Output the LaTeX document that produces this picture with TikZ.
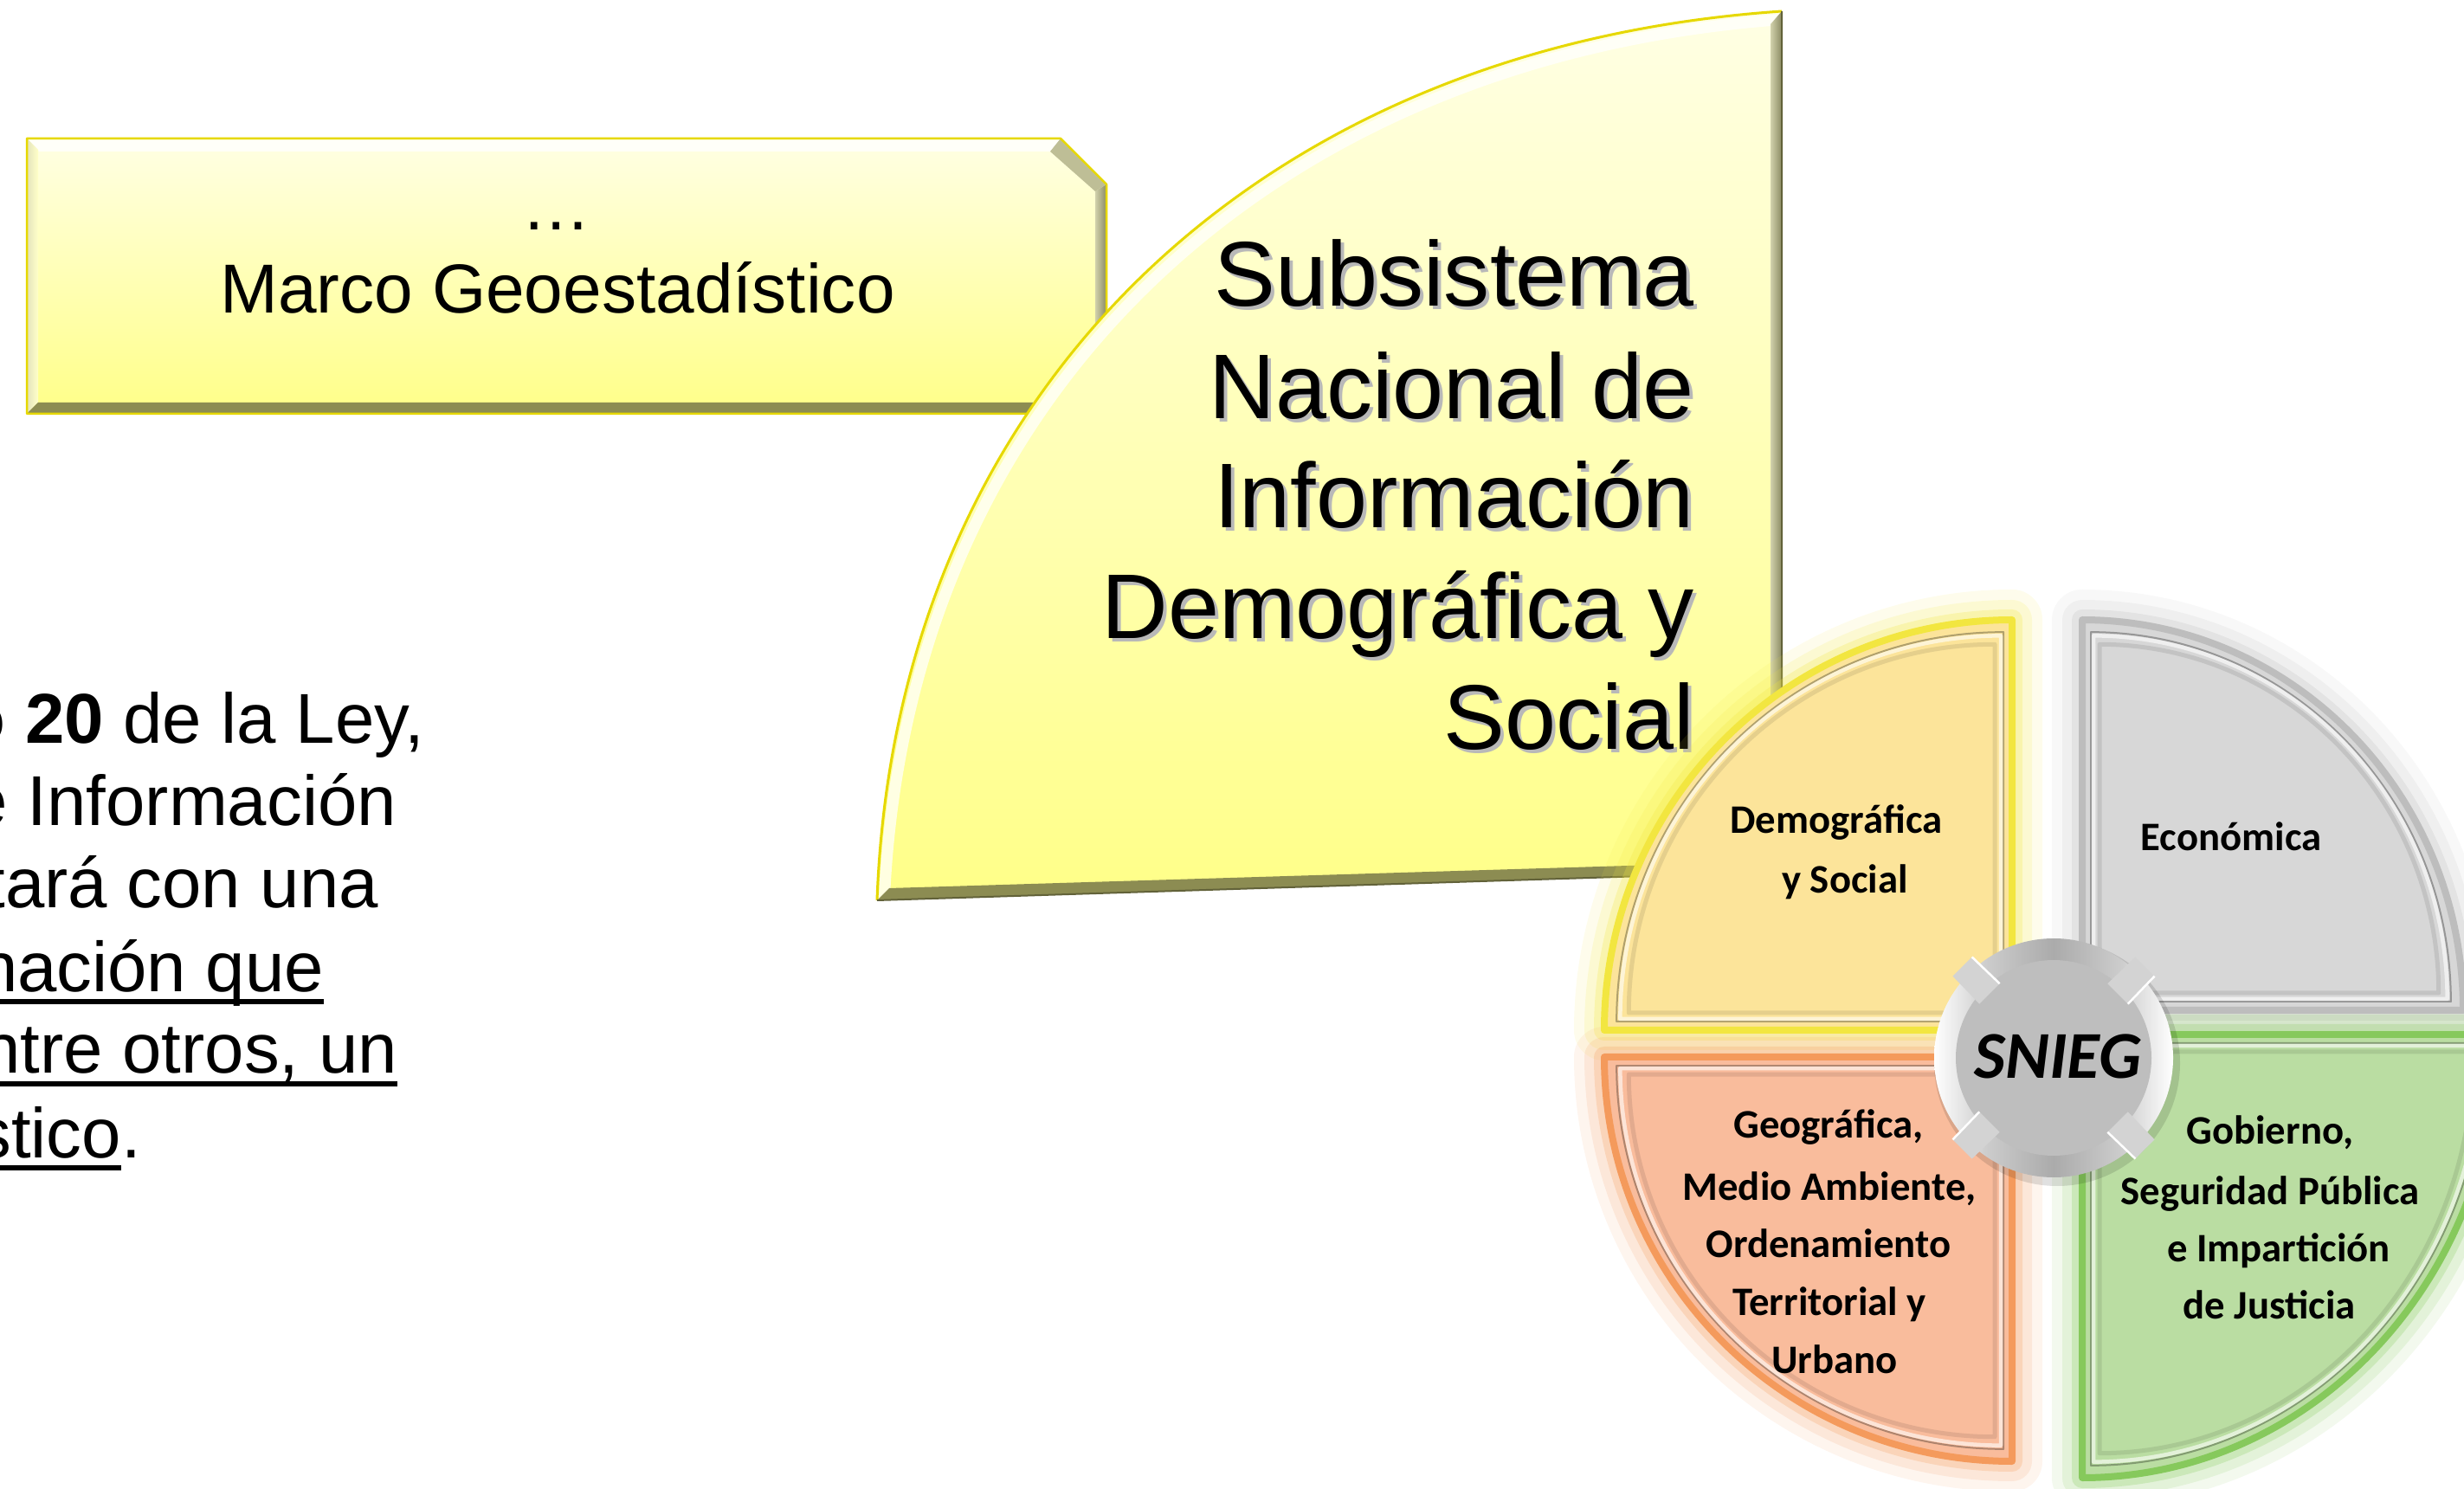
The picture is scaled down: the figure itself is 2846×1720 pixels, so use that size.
\documentclass[tikz,border=0pt]{standalone}
\usepackage{fontspec}
\setmainfont{Liberation Sans}
\newfontfamily\carlito{Carlito}
\definecolor{mkTop}{HTML}{FFFFE4}
\definecolor{mkBot}{HTML}{FFFF88}
\definecolor{bevDark}{HTML}{8C8C52}
\definecolor{bevSide}{HTML}{A3A374}
\definecolor{bevLight}{HTML}{E4E4BC}
\definecolor{edgeY}{HTML}{E6D800}
\definecolor{qY}{HTML}{FCE49A}
\definecolor{qYg}{HTML}{F2E640}
\definecolor{qG}{HTML}{D7D7D7}
\definecolor{qGg}{HTML}{BDBDBD}
\definecolor{qO}{HTML}{F9BC9C}
\definecolor{qOg}{HTML}{F49A5C}
\definecolor{qV}{HTML}{BADDA2}
\definecolor{qVg}{HTML}{86C95C}
\definecolor{knobC}{HTML}{BEBEBE}
\definecolor{tabC}{HTML}{D3D3D3}
\pgfdeclarehorizontalshading{ringshade}{100bp}{color(0bp)=(white); color(25bp)=(white); color(36bp)=(black!20); color(50bp)=(black!33); color(64bp)=(black!20); color(75bp)=(white); color(100bp)=(white)}
% quarter ellipse: corner (#1,#2), signs (#3,#4), radii (#5,#6), inset #7, options #8
\newcommand{\quadshape}[8]{%
 \path[#8] ({#1+(#3)*(#7)},{#2+(#4)*(#7)})
  -- ({#1+(#3)*((#5)-1.414*(#7))},{#2+(#4)*(#7)})
  .. controls ({#1+(#3)*((#5)-1.414*(#7))},{#2+(#4)*((#7)+0.5523*((#6)-2.414*(#7)))})
  and ({#1+(#3)*((#7)+0.5523*((#5)-2.414*(#7)))},{#2+(#4)*((#6)-1.414*(#7))})
  .. ({#1+(#3)*(#7)},{#2+(#4)*((#6)-1.414*(#7))}) -- cycle;}
\newcommand{\panelglow}[8]{%
 \quadshape{#1}{#2}{#3}{#4}{#5}{#6}{0}{draw=#8, line width=7mm, opacity=0.10, line join=round}%
 \quadshape{#1}{#2}{#3}{#4}{#5}{#6}{0}{draw=#8, line width=4.6mm, opacity=0.15, line join=round}%
 \quadshape{#1}{#2}{#3}{#4}{#5}{#6}{0}{draw=#8, line width=2.4mm, opacity=0.25, line join=round}%
}
\newcommand{\panelbody}[8]{%
 \quadshape{#1}{#2}{#3}{#4}{#5}{#6}{0}{fill=#7}%
 \quadshape{#1}{#2}{#3}{#4}{#5}{#6}{0}{draw=#8, line width=0.8mm, line join=round}%
 \quadshape{#1}{#2}{#3}{#4}{#5}{#6}{10}{draw=#7!70!black, line width=0.2mm, line join=round}%
 \quadshape{#1}{#2}{#3}{#4}{#5}{#6}{13}{draw=white, opacity=0.6, line width=0.45mm, line join=round}%
 \quadshape{#1}{#2}{#3}{#4}{#5}{#6}{20}{draw=#7!80!black, opacity=0.45, line width=0.5mm, line join=round}%
}
\begin{document}
\begin{tikzpicture}[x=0.1mm,y=-0.1mm,
  every node/.style={inner sep=0pt, outer sep=0pt},
  mtext/.style={font=\fontsize{22.8pt}{27pt}\selectfont, anchor=base},
  stext/.style={font=\fontsize{30.2pt}{36pt}\selectfont, anchor=base east},
  sshadow/.style={stext, text=black!28},
  ltext/.style={font=\fontsize{23.2pt}{28pt}\selectfont, anchor=base east},
  qtext/.style={font=\carlito\bfseries\fontsize{13.3pt}{16pt}\selectfont, anchor=base},
  ul/.style={line width=0.6mm}]
\useasboundingbox (0,0) rectangle (2846,1720);

% ---------- Marco box ----------
\shade[top color=mkTop, bottom color=mkBot] (31,160) -- (1225,160) -- (1278,213) -- (1278,478) -- (31,478) -- cycle;
\fill[white, opacity=0.8] (33,162) -- (1224,162) -- (1213,175) -- (45,175) -- cycle;
\shade[left color=bevLight, right color=mkTop!70!mkBot] (31,160) -- (44,173) -- (44,465) -- (31,478) -- cycle;
\fill[bevDark] (31,478) -- (44,465) -- (1265,465) -- (1278,478) -- cycle;
\shade[left color=bevSide!50!mkTop, right color=bevSide!85!black] (1278,213) -- (1265,221) -- (1265,465) -- (1278,478) -- cycle;
\fill[bevSide!70!mkTop] (1225,160) -- (1278,213) -- (1265,221) -- (1213,175) -- cycle;
\draw[edgeY, line width=0.25mm, line join=round] (31,160) -- (1225,160) -- (1278,213) -- (1278,478) -- (31,478) -- cycle;
\node[mtext] (dots) at (643,266) {…};
\node[mtext] (marco) at (644,362) {Marco Geoestadístico};

% ---------- Subsistema quarter ----------
\shade[top color=mkTop, bottom color=mkBot] (1013,1040) .. controls (1034,455) and (1450,54) .. (2058,13) -- (2058,1007) -- cycle;
\begin{scope}
\clip (1013,1040) .. controls (1034,455) and (1450,54) .. (2058,13) -- (2058,1007) -- cycle;
\draw[white, opacity=0.75, line width=1.3mm, shift={(8,9)}] (1013,1040) .. controls (1034,455) and (1450,54) .. (2058,13);
\end{scope}
\shade[left color=bevSide!50!mkTop, right color=bevSide!85!black] (2058,13) -- (2045,28) -- (2045,995) -- (2058,1007) -- cycle;
\fill[bevDark] (1013,1040) -- (1027,1026) -- (2045,995) -- (2058,1007) -- cycle;
\draw[edgeY, line width=0.3mm] (1013,1040) .. controls (1034,455) and (1450,54) .. (2058,13);
\draw[bevDark!70!black, line width=0.2mm, line join=round] (2058,13) -- (2058,1007) -- (1013,1040);

\node[sshadow] (s1s) at (1961,358) {Subsistema};
\node[sshadow] (s2s) at (1961,488) {Nacional de};
\node[sshadow] (s3s) at (1961,614) {Información};
\node[sshadow] (s4s) at (1961,742) {Demográfica y};
\node[sshadow] (s5s) at (1961,870) {Social};
\node[stext] (s1) at (1957,354) {Subsistema};
\node[stext] (s2) at (1957,484) {Nacional de};
\node[stext] (s3) at (1957,610) {Información};
\node[stext] (s4) at (1957,738) {Demográfica y};
\node[stext] (s5) at (1957,866) {Social};

% ---------- SNIEG wheel ----------
\panelglow{2324}{1190}{-1}{-1}{471}{474}{qY}{qYg}
\panelglow{2405}{1167}{1}{-1}{440}{451}{qG}{qGg}
\panelglow{2324}{1221}{-1}{1}{471}{467}{qO}{qOg}
\panelglow{2405}{1195}{1}{1}{480}{512}{qV}{qVg}
\panelbody{2324}{1190}{-1}{-1}{471}{474}{qY}{qYg}
\panelbody{2405}{1167}{1}{-1}{440}{451}{qG}{qGg}
\panelbody{2324}{1221}{-1}{1}{471}{467}{qO}{qOg}
\panelbody{2405}{1195}{1}{1}{480}{512}{qV}{qVg}

% knob
\fill[black, opacity=0.12] (2376,1228) circle[radius=142];
\shade[shading=ringshade] (2372,1222) circle[radius=138];
\fill[knobC] (2372,1222) circle[radius=113];
\foreach \a in {45,135,225,315}{
  \fill[tabC] ([shift={(2372,1222)}]\a-9:106) -- ([shift={(2372,1222)}]\a-6:150) -- ([shift={(2372,1222)}]\a+6:150) -- ([shift={(2372,1222)}]\a+9:106) -- cycle;
  \draw[white, line width=0.25mm] ([shift={(2372,1222)}]\a+9:106) -- ([shift={(2372,1222)}]\a+6:150);
}
\node[font=\carlito\bfseries\itshape\fontsize{22pt}{26pt}\selectfont, anchor=base] (snieg) at (2377,1245) {SNIEG};

% quadrant labels
\node[qtext] (q1a) at (2121,963) {Demográfica};
\node[qtext] (q1b) at (2131,1032) {y Social};
\node[qtext] (q2a) at (2577,983) {Económica};
\node[qtext] (q3a) at (2112,1314) {Geográfica,};
\node[qtext] (q3b) at (2113,1386) {Medio Ambiente,};
\node[qtext] (q3c) at (2112,1452) {Ordenamiento};
\node[qtext] (q3d) at (2113,1519) {Territorial y};
\node[qtext] (q3e) at (2119,1586) {Urbano};
\node[qtext] (q4a) at (2622,1321) {Gobierno,};
\node[qtext] (q4b) at (2622,1391) {Seguridad Pública};
\node[qtext] (q4c) at (2632,1457) {e Impartición};
\node[qtext] (q4d) at (2621,1523) {de Justicia};

% ---------- left text (cut off by the page edge, as in the reference) ----------
\node[ltext] (l1) at (490,859) {{\bfseries o 20} de la Ley,};
\node[ltext] (l2) at (458,954) {e Información};
\node[ltext] (l3) at (437,1049) {tará con una};
\node[ltext] (l4) at (374,1145) {nación que};
\node[ltext] (l5) at (459,1240) {ntre otros, un};
\node[ltext] (l6) at (140,1337) {stico};
\node[ltext, anchor=base west] (l6p) at (140,1337) {.};
\draw[ul] ([yshift=-1.2mm]l4.base west) -- ([yshift=-1.2mm]l4.base east);
\draw[ul] ([yshift=-1.2mm]l5.base west) -- ([yshift=-1.2mm]l5.base east);
\draw[ul] ([yshift=-1.2mm]l6.base west) -- ([yshift=-1.2mm]l6.base east);
\end{tikzpicture}
\end{document}
